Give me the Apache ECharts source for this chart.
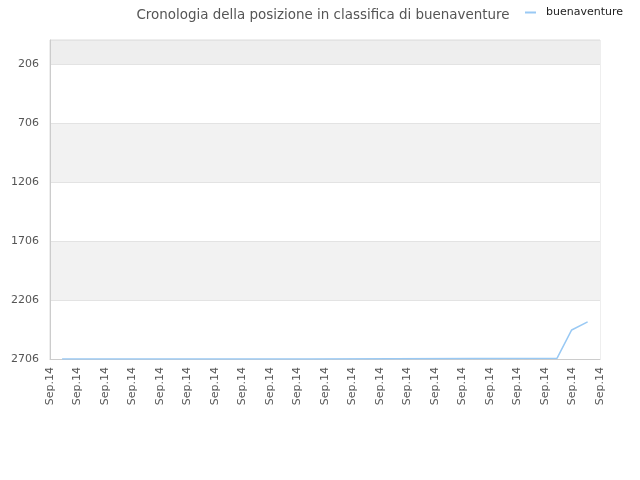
<!DOCTYPE html>
<html>
<head>
<meta charset="utf-8">
<script src="https://cdn.jsdelivr.net/npm/echarts@6/dist/echarts.min.js"></script>
<style>html,body{margin:0;padding:0;background:#fff}#c{width:640px;height:480px}</style>
</head>
<body>
<div id="c"></div>
<script>
var titleText = 'Cronologia della posizione in classifica di buenaventure';
var seriesName = 'buenaventure';
var xTickLabels = ['Sep.14','Sep.14','Sep.14','Sep.14','Sep.14','Sep.14','Sep.14','Sep.14','Sep.14','Sep.14','Sep.14','Sep.14','Sep.14','Sep.14','Sep.14','Sep.14','Sep.14','Sep.14','Sep.14','Sep.14','Sep.14'];
var yTickLabels = [206, 706, 1206, 1706, 2206, 2706];
// x positions in tick units, rank values
var xPos = [0.44, 9.5, 9.53, 18.44, 18.97, 19.55];
var ranks = [2706, 2706, 2699, 2699, 2460, 2392];
var rankBottom = 2706, rankTop = 3;

var data = xPos.map(function (x, i) { return [x, rankBottom - ranks[i]]; });

var chart = echarts.init(document.getElementById('c'));
chart.setOption({
  animation: false,
  backgroundColor: '#fff',
  title: {
    text: titleText, left: 318, textAlign: 'center', top: 4,
    textStyle: { fontFamily: 'DejaVu Sans', fontSize: 13.45, fontWeight: 'normal', color: '#555' }
  },
  legend: {
    data: [seriesName], right: 17, top: 7, itemWidth: 11, itemHeight: 2, itemGap: 5,
    icon: 'rect', padding: 0,
    textStyle: { fontFamily: 'DejaVu Sans', fontSize: 11, color: '#222', padding: [0, 0, 0, 5] }
  },
  grid: { left: 50, right: 40, top: 40, bottom: 121, show: true, borderColor: '#ddd', borderWidth: 1, backgroundColor: 'transparent' },
  xAxis: {
    type: 'value', min: 0, max: 20, interval: 1,
    axisLine: { show: true, lineStyle: { color: '#ccc' } },
    axisTick: { show: false },
    splitLine: { show: false },
    axisLabel: {
      rotate: 90, margin: 8, fontFamily: 'DejaVu Sans', fontSize: 11, color: '#555',
      formatter: function (v) { return xTickLabels[Math.round(v)] || ''; }
    }
  },
  yAxis: {
    type: 'value', min: 0, max: rankBottom - rankTop, interval: 500,
    axisLine: { show: true, lineStyle: { color: '#ccc' } },
    axisTick: { show: false },
    splitLine: { show: true, lineStyle: { color: '#e3e3e3' } },
    splitArea: { show: true, areaStyle: { color: ['#ffffff', '#f2f2f2', '#ffffff', '#f2f2f2', '#ffffff', '#eeeeee'] } },
    axisLabel: {
      showMaxLabel: false, margin: 11, fontFamily: 'DejaVu Sans', fontSize: 11, color: '#555',
      formatter: function (v) {
        var r = rankBottom - v;
        return yTickLabels.indexOf(r) >= 0 ? String(r) : '';
      }
    }
  },
  series: [{
    name: seriesName, type: 'line', data: data, showSymbol: false, symbol: 'none',
    lineStyle: { color: '#99c9f4', width: 1.5 }, itemStyle: { color: '#99c9f4' }
  }]
});
</script>
</body>
</html>
